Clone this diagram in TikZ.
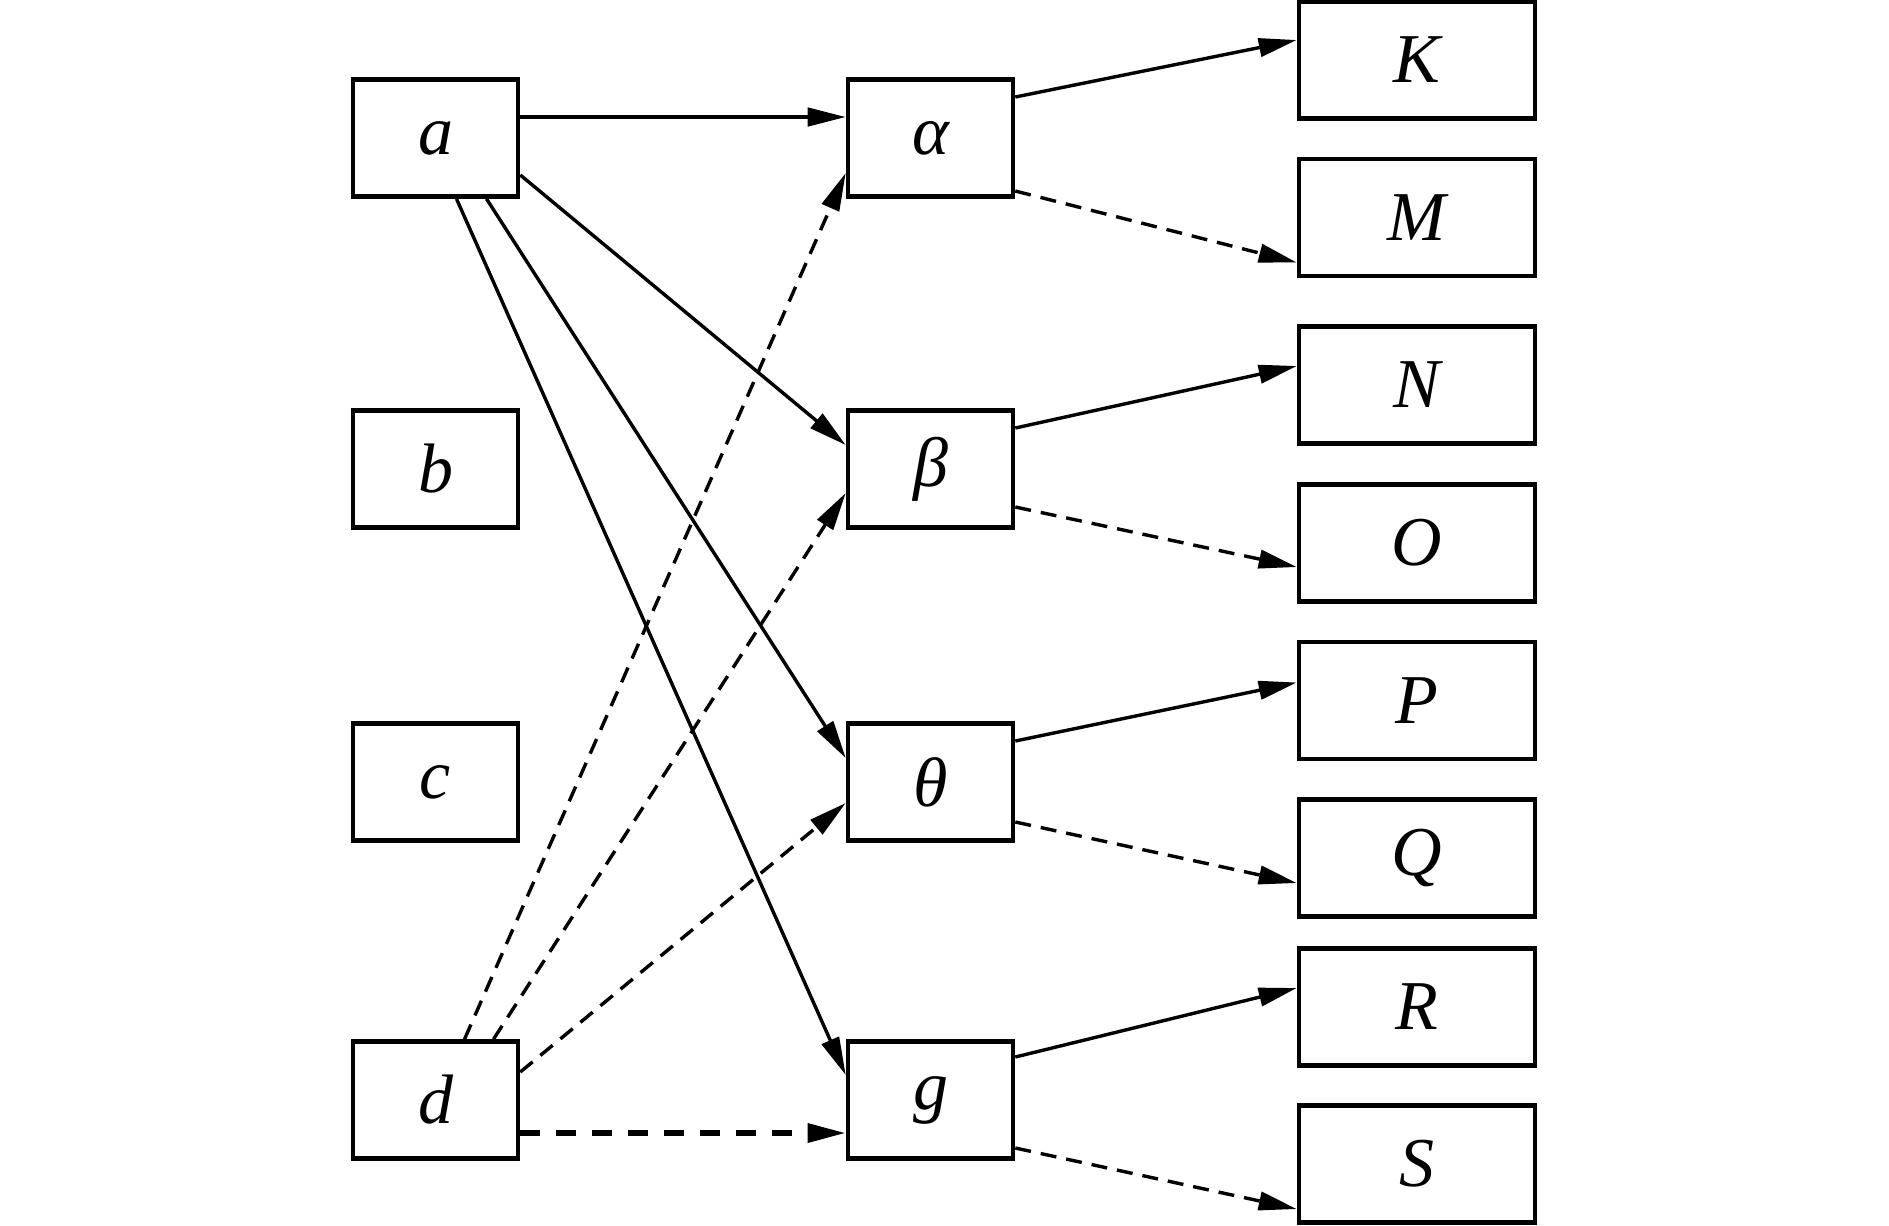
\documentclass[tikz,border=0pt]{standalone}
\usepackage{fontspec}
\setmainfont{Liberation Serif}
\usepackage{tikz}
\usetikzlibrary{arrows.meta,calc,positioning}

\begin{document}
\begin{tikzpicture}[x=0.25pt,y=-0.25pt]

\tikzset{box/.style={draw=black, line width=1.15pt, minimum width=#1, minimum height=29.25pt, inner sep=0pt, font=\fontsize{17.5}{20}\selectfont\itshape},
%default width is the one of the two left columns.
box/.default={41.25pt},
link/.style={line width=0.85pt, -{Triangle[length=9.5pt,width=4.6pt]}},
dlink/.style={link, dash pattern=on 4pt off 2.5pt}}

\useasboundingbox (0,0) rectangle (1889,1225);

\foreach \n/\t/\y in {a/a/138, b/b/469, c/c/782, d/d/1100}
\node[box] (\n) at (435.5,\y) {\t};

\foreach \n/\t/\y in {al/α/138, be/β/469, th/θ/782, g/g/1100}
\node[box] (\n) at (930.5,\y) {\t};

\foreach \n/\y in {K/60, M/217.5, N/385, O/543, P/700.5, Q/858, R/1007, S/1164}
\node[box=59pt] (\n) at (1417,\y) {\n};

\draw[link] ($(a.east)+(0,-21)$) -- ($(al.west)+(0,-21)$);
\draw[link] ($(a.east)+(0,37)$) -- ($(be.west)+(0,-24)$);
\draw[link] ($(a.south)+(51,0)$) -- ($(th.west)+(0,-24)$);
\draw[link] ($(a.south)+(21,0)$) -- ($(g.west)+(0,-25)$);

\draw[dlink] ($(d.north)+(29,0)$) -- ($(al.west)+(0,35)$);
\draw[dlink] ($(d.north)+(58,0)$) -- ($(be.west)+(0,24)$);
\draw[dlink] ($(d.east)+(0,-28)$) -- ($(th.west)+(0,21)$);
\draw[dlink, line width=1.3pt, dash pattern=on 5pt off 4pt] ($(d.east)+(0,33)$) -- ($(g.west)+(0,33)$);

\foreach \s/\t/\o/\p in {al/K/-41/-20, be/N/-41/-19, th/P/-41/-18, g/R/-43/-19}
\draw[link] ($(\s.east)+(0,\o)$) -- ($(\t.west)+(0,\p)$);

\foreach \s/\t/\o/\p in {al/M/53/45, be/O/38/24, th/Q/40/25, g/S/48/45}
\draw[dlink] ($(\s.east)+(0,\o)$) -- ($(\t.west)+(0,\p)$);

%\draw (0,0) rectangle (1889,1225);

\end{tikzpicture}
\end{document}
